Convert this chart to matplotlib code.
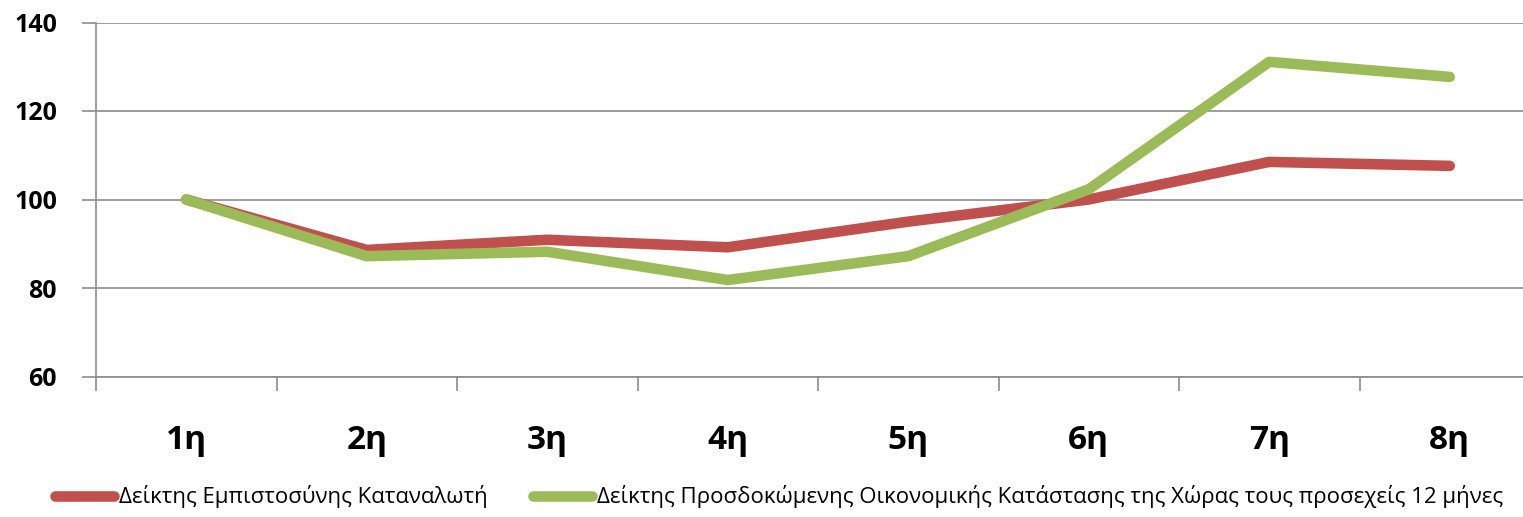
import matplotlib.pyplot as plt
import numpy as np

# data
categories = ["1η", "2η", "3η", "4η", "5η", "6η", "7η", "8η"]
consumer_conf = [100, 88.6, 90.9, 89.2, 95.0, 100.0, 108.5, 107.6]
expected_econ = [100, 87.2, 88.2, 81.8, 87.2, 102.3, 131.1, 127.7]
series_names = ["Δείκτης Εμπιστοσύνης Καταναλωτή",
                "Δείκτης Προσδοκώμενης Οικονομικής Κατάστασης της Χώρας τους προσεχείς 12 μήνες"]
yticks = [60, 80, 100, 120, 140]

plt.rcParams['font.family'] = ['Open Sans', 'DejaVu Sans']

fig = plt.figure(figsize=(15.23, 5.17), dpi=100)
ax = fig.add_axes([96 / 1523, 1 - 376.5 / 517, 1444 / 1523, (376.5 - 22.5) / 517])

x = np.arange(len(categories)) + 0.5
ax.plot(x, consumer_conf, color="#C0504D", lw=7.6, solid_capstyle="round",
        solid_joinstyle="round", label=series_names[0], zorder=3)
ax.plot(x, expected_econ, color="#9BBB59", lw=7.6, solid_capstyle="round",
        solid_joinstyle="round", label=series_names[1], zorder=4)

ax.set_xlim(0, len(categories))
ax.set_ylim(60, 140)
ax.set_yticks(yticks)
ax.set_yticklabels([str(v) for v in yticks], fontsize=18, fontweight="bold")
ax.yaxis.grid(True, color="#8C8C8C", lw=1.2)
ax.set_axisbelow(True)

# category boundaries get the ticks, centres get the labels
ax.set_xticks(np.arange(len(categories) + 1))
ax.set_xticklabels([])
ax.set_xticks(x, minor=True)
ax.set_xticklabels(categories, minor=True, fontsize=24, fontweight="bold")
ax.tick_params(axis="x", which="major", length=10, width=1.2, color="#8C8C8C", direction="out")
ax.tick_params(axis="x", which="minor", length=0, pad=34)
ax.tick_params(axis="y", length=10, width=1.2, color="#8C8C8C", pad=18)

for s in ["top", "right"]:
    ax.spines[s].set_visible(False)
for s in ["left", "bottom"]:
    ax.spines[s].set_color("#8C8C8C")
    ax.spines[s].set_linewidth(1.2)

fig.legend(loc="center left", bbox_to_anchor=(55 / 1523, 1 - 497 / 517), ncol=2,
           frameon=False, fontsize=16, handlelength=2.65, handletextpad=0.25,
           columnspacing=2.0, borderaxespad=0, borderpad=0)

fig.savefig("out.png", dpi=100)
